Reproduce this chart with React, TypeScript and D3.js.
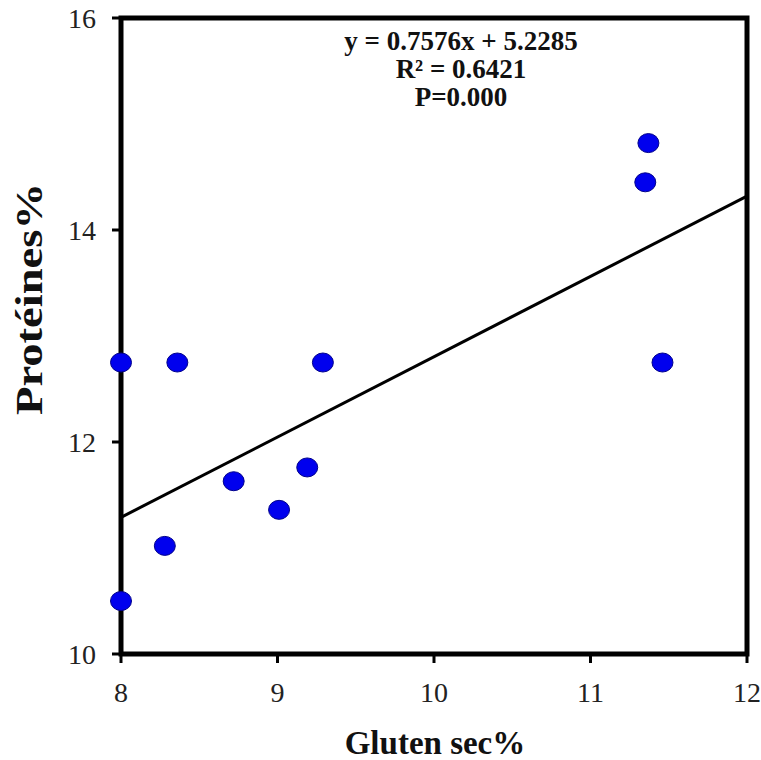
import { useEffect, useRef } from "react";
import * as d3 from "d3";

// Gluten sec% (x) vs Protéines% (y)
const glutenSec = [8.0, 8.36, 9.29, 11.46, 11.37, 11.35, 8.72, 9.19, 9.01, 8.28, 8.0];
const proteines = [12.75, 12.75, 12.75, 12.75, 14.82, 14.45, 11.63, 11.76, 11.36, 11.02, 10.5];

const xTicks = [8, 9, 10, 11, 12];
const yTicks = [10, 12, 14, 16];

const slope = 0.7576;
const intercept = 5.2285;
const statLines = ["y = 0.7576x + 5.2285", "R² = 0.6421", "P=0.000"];

const W = 761;
const H = 760;
const margin = { top: 18, right: 14, bottom: 106, left: 121 };

export default function App() {
  const ref = useRef<SVGSVGElement | null>(null);

  useEffect(() => {
    if (!ref.current) return;
    const svg = d3.select(ref.current);
    svg.selectAll("*").remove();

    const x = d3.scaleLinear().domain([8, 12]).range([margin.left, W - margin.right]);
    const y = d3.scaleLinear().domain([10, 16]).range([H - margin.bottom, margin.top]);

    svg.append("rect").attr("width", W).attr("height", H).attr("fill", "#fff");

    // frame
    svg.append("rect")
      .attr("x", x(8)).attr("y", y(16))
      .attr("width", x(12) - x(8)).attr("height", y(10) - y(16))
      .attr("fill", "none").attr("stroke", "#000").attr("stroke-width", 5);

    const serif = "'Liberation Serif', 'Times New Roman', serif";

    // y ticks
    svg.append("g").selectAll("line").data(yTicks).join("line")
      .attr("x1", x(8) - 9).attr("x2", x(8))
      .attr("y1", (d) => y(d)).attr("y2", (d) => y(d))
      .attr("stroke", "#000").attr("stroke-width", 3);
    svg.append("g").selectAll("text").data(yTicks).join("text")
      .attr("x", 96).attr("y", (d) => y(d))
      .attr("text-anchor", "end").attr("dominant-baseline", "central")
      .style("font-family", serif).style("font-size", "28px").attr("fill", "#222")
      .text((d) => d);

    // x ticks
    svg.append("g").selectAll("line").data(xTicks).join("line")
      .attr("x1", (d) => x(d)).attr("x2", (d) => x(d))
      .attr("y1", y(10)).attr("y2", y(10) + 9)
      .attr("stroke", "#000").attr("stroke-width", 3);
    svg.append("g").selectAll("text").data(xTicks).join("text")
      .attr("x", (d) => x(d)).attr("y", 702)
      .attr("text-anchor", "middle")
      .style("font-family", serif).style("font-size", "28px").attr("fill", "#222")
      .text((d) => d);

    // regression line
    svg.append("line")
      .attr("x1", x(8)).attr("y1", y(slope * 8 + intercept))
      .attr("x2", x(12)).attr("y2", y(slope * 12 + intercept))
      .attr("stroke", "#000").attr("stroke-width", 3);

    // points
    svg.append("g").selectAll("ellipse").data(glutenSec).join("ellipse")
      .attr("cx", (d) => x(d)).attr("cy", (_, i) => y(proteines[i]))
      .attr("rx", 10.5).attr("ry", 9.5)
      .attr("fill", "#0000ee").attr("stroke", "#00008b").attr("stroke-width", 1);

    // stats
    svg.append("g").selectAll("text").data(statLines).join("text")
      .attr("x", 461).attr("y", (_, i) => 50 + i * 28)
      .attr("text-anchor", "middle")
      .style("font-family", serif).style("font-size", "27px").style("font-weight", "bold")
      .attr("fill", "#111")
      .text((d) => d);

    // axis titles
    svg.append("text")
      .attr("x", 435).attr("y", 754)
      .attr("text-anchor", "middle")
      .style("font-family", serif).style("font-size", "33px").style("font-weight", "bold")
      .attr("fill", "#111")
      .text("Gluten sec%");

    svg.append("text")
      .attr("transform", "translate(42,299) rotate(-90)")
      .attr("text-anchor", "middle")
      .attr("textLength", 232).attr("lengthAdjust", "spacingAndGlyphs")
      .style("font-family", serif).style("font-size", "38px").style("font-weight", "bold")
      .attr("fill", "#111")
      .text("Protéines%");
  }, []);

  return (
    <svg
      ref={ref}
      width={W}
      height={H}
      style={{ position: "absolute", left: 0, top: 0, display: "block" }}
    />
  );
}
